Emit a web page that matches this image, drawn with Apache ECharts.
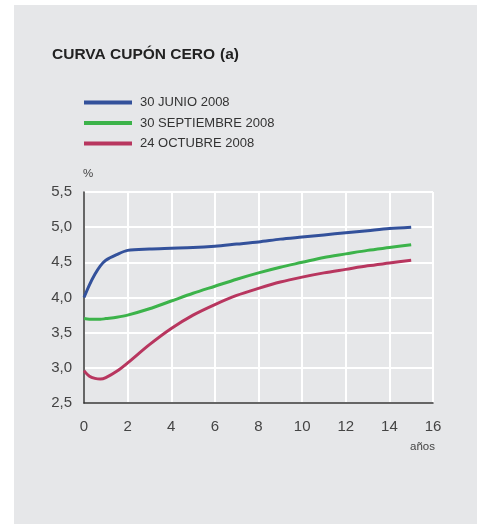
<!doctype html>
<html>
<head>
<meta charset="utf-8">
<title>Curva cupón cero</title>
<style>
  html, body { margin: 0; padding: 0; background: #fff; }
  #main { width: 478px; height: 524px; }
</style>
</head>
<body>
<div id="main"></div>
<script src="https://cdn.jsdelivr.net/npm/echarts@6/dist/echarts.min.js"></script>
<script>
var chart = echarts.init(document.getElementById('main'));

// plazos en años
var years = [0, 0.25, 0.5, 0.75, 1, 1.5, 2, 3, 4, 5, 6, 7, 8, 9, 10, 11, 12, 13, 14, 15];
var junio = [4.00, 4.18, 4.33, 4.45, 4.53, 4.61, 4.67, 4.69, 4.70, 4.71, 4.73, 4.76, 4.79, 4.83, 4.86, 4.89, 4.92, 4.95, 4.98, 5.00];
var septiembre = [3.70, 3.69, 3.69, 3.69, 3.70, 3.72, 3.75, 3.84, 3.95, 4.06, 4.16, 4.26, 4.35, 4.43, 4.50, 4.57, 4.62, 4.67, 4.71, 4.75];
var octubre = [2.96, 2.88, 2.85, 2.84, 2.86, 2.95, 3.07, 3.33, 3.56, 3.75, 3.90, 4.03, 4.13, 4.22, 4.29, 4.35, 4.40, 4.45, 4.49, 4.53];
var seriesNames = ['30 JUNIO 2008', '30 SEPTIEMBRE 2008', '24 OCTUBRE 2008'];
var colors = ['#33519b', '#3cb34a', '#b8365f'];

function pairs(vals) {
    return years.map(function (x, i) { return [x, vals[i]]; });
}

var font = 'Liberation Sans, Arial, sans-serif';

chart.setOption({
    animation: false,
    textStyle: { fontFamily: font },
    graphic: [
        {
            type: 'rect',
            shape: { x: 14, y: 5, width: 463, height: 519 },
            style: { fill: '#e6e7e9' },
            z: -10
        },
        {
            type: 'text',
            left: 410,
            top: 441,
            style: { text: 'años', fontSize: 11.5, fill: '#444', fontFamily: font }
        }
    ],
    title: {
        left: 52,
        top: 46,
        padding: 0,
        text: '{b|CURVA CUPÓN CERO} {n|(a)}',
        textStyle: {
            rich: {
                b: { fontSize: 15.5, fontWeight: 'bold', color: '#222', fontFamily: font },
                n: { fontSize: 15.5, color: '#222', fontFamily: font }
            }
        }
    },
    legend: {
        orient: 'vertical',
        left: 84,
        top: 96,
        padding: 0,
        itemWidth: 48,
        itemHeight: 4,
        itemGap: 7.5,
        icon: 'rect',
        textStyle: { fontSize: 13, color: '#333', padding: [0, 0, 0, 3] },
        data: seriesNames
    },
    grid: { left: 84, right: 45, top: 192, bottom: 121 },
    xAxis: {
        type: 'value',
        min: 0,
        max: 16,
        interval: 2,
        axisLine: { lineStyle: { color: '#333', width: 1.5 } },
        axisTick: { show: false },
        axisLabel: { fontSize: 15, color: '#444', margin: 16 },
        splitLine: { show: true, lineStyle: { color: '#fff', width: 2 } }
    },
    yAxis: {
        type: 'value',
        min: 2.5,
        max: 5.5,
        interval: 0.5,
        name: '%',
        nameLocation: 'end',
        nameGap: 12,
        nameTextStyle: { fontSize: 11.5, color: '#444', align: 'left', padding: [0, 0, 0, -1] },
        axisLine: { show: true, lineStyle: { color: '#333', width: 1.5 } },
        axisTick: { show: false },
        axisLabel: {
            fontSize: 15,
            color: '#444',
            margin: 12,
            formatter: function (v) { return v.toFixed(1).replace('.', ','); }
        },
        splitLine: { show: true, lineStyle: { color: '#fff', width: 2 } }
    },
    series: [
        { name: seriesNames[0], type: 'line', data: pairs(junio) },
        { name: seriesNames[1], type: 'line', data: pairs(septiembre) },
        { name: seriesNames[2], type: 'line', data: pairs(octubre) }
    ].map(function (s, i) {
        s.smooth = 0.3;
        s.showSymbol = false;
        s.symbol = 'none';
        s.color = colors[i];
        s.lineStyle = { color: colors[i], width: 3 };
        return s;
    })
});
</script>
</body>
</html>
